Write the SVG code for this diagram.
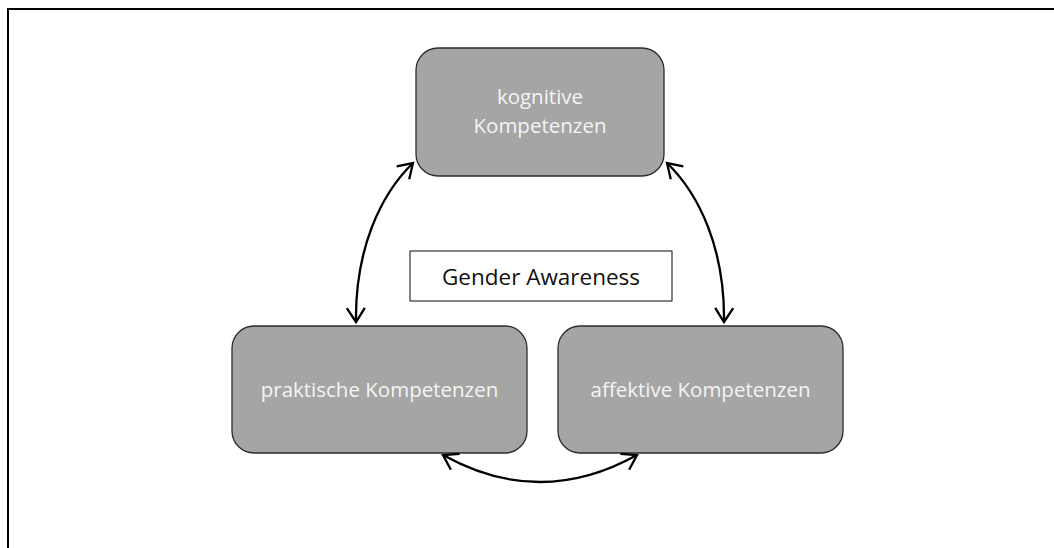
<svg xmlns="http://www.w3.org/2000/svg" width="1054" height="548" viewBox="0 0 1054 548">
<style>
.box{fill:#a5a5a5;stroke:#2b2b2b;stroke-width:1.3}
.lbl{font-family:"Open Sans","Noto Sans",sans-serif;font-size:20.5px;fill:#f4f4f4;text-anchor:middle}
.conn{fill:none;stroke:#000;stroke-width:2.3;marker-start:url(#ah);marker-end:url(#ah)}
</style>
<defs>
<marker id="ah" markerUnits="userSpaceOnUse" markerWidth="30" markerHeight="30" viewBox="-20 -15 30 30" refX="0" refY="0" orient="auto-start-reverse" overflow="visible">
<path d="M -14 -9 L 0 0 L -14 9" fill="none" stroke="#000" stroke-width="2.3"/>
</marker>
</defs>
<rect width="1054" height="548" fill="#fff"/>
<path d="M 8 548 V 9 H 1054" fill="none" stroke="#000" stroke-width="2"/>
<g id="kognitive">
<rect class="box" x="416" y="48" width="248" height="128" rx="22"/>
<text class="lbl" x="540" y="104">kognitive</text>
<text class="lbl" x="540" y="132.5">Kompetenzen</text>
</g>
<g id="praktische">
<rect class="box" x="232" y="326" width="295" height="127" rx="22"/>
<text class="lbl" x="379.5" y="397">praktische Kompetenzen</text>
</g>
<g id="affektive">
<rect class="box" x="558" y="326" width="285" height="127" rx="22"/>
<text class="lbl" x="700.5" y="397">affektive Kompetenzen</text>
</g>
<g id="gender">
<rect x="410" y="251" width="262" height="50" fill="#fff" stroke="#333" stroke-width="1.2"/>
<text x="541" y="285" font-family="Open Sans, Noto Sans, sans-serif" font-size="22.5" fill="#111" text-anchor="middle">Gender Awareness</text>
</g>
<g id="connectors">
<path class="conn" d="M 413 163 C 380 195, 355 250, 356 322"/>
<path class="conn" d="M 667 163 C 700 195, 725 250, 724 322"/>
<path class="conn" d="M 443 455 Q 540 509 637 455"/>
</g>
</svg>
